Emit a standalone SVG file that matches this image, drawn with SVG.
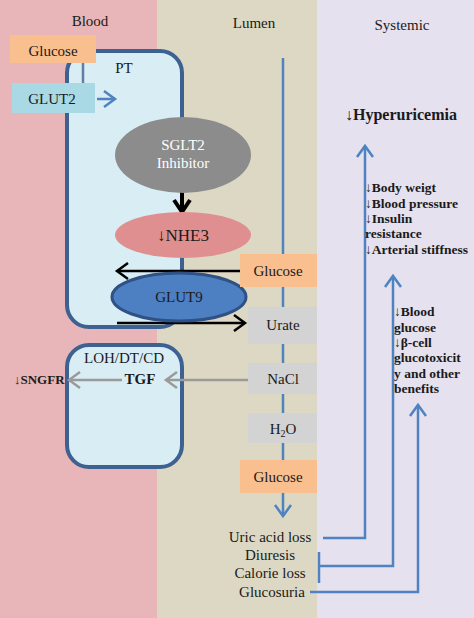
<svg xmlns="http://www.w3.org/2000/svg" width="474" height="618" viewBox="0 0 474 618" font-family="'Liberation Serif', 'DejaVu Serif', serif">
<defs>
<style>
text{font-family:"Liberation Serif","DejaVu Serif",serif;fill:#1a1a1a}
.t{font-size:15px}
.b{font-weight:bold;font-size:13.5px}
.box{stroke:none}
.org{fill:#f9bf8f}
.gry{fill:#d3d3d3}
.cell{fill:#d9edf4;stroke:#3d6190;stroke-width:4}
.blue{stroke:#4f82c0;stroke-width:2.5;fill:none}
.blk{stroke:#000;stroke-width:2.5;fill:none}
.gl{stroke:#9a9a9a;stroke-width:2.5;fill:none}
</style>
<marker id="ab" markerUnits="userSpaceOnUse" markerWidth="16" markerHeight="20" refX="13" refY="10" orient="auto"><path d="M2,2 L13,10 L2,18" fill="none" stroke="#4f82c0" stroke-width="2.5"/></marker>
<marker id="ak" markerUnits="userSpaceOnUse" markerWidth="16" markerHeight="20" refX="13" refY="10" orient="auto"><path d="M2,2 L13,10 L2,18" fill="none" stroke="#000" stroke-width="2.5"/></marker>
<marker id="akb" markerUnits="userSpaceOnUse" markerWidth="18" markerHeight="20" refX="14" refY="10" orient="auto"><path d="M2,2 L14,10 L2,18" fill="none" stroke="#000" stroke-width="4"/></marker>
<marker id="ag" markerUnits="userSpaceOnUse" markerWidth="16" markerHeight="20" refX="13" refY="10" orient="auto"><path d="M2,2 L13,10 L2,18" fill="none" stroke="#9a9a9a" stroke-width="2.5"/></marker>
</defs>

<g id="background">
<rect x="0" y="0" width="157" height="618" fill="#e8b6b8"/>
<rect x="157" y="0" width="160" height="618" fill="#ddd8c3"/>
<rect x="317" y="0" width="157" height="618" fill="#e5e1ee"/>
<text class="t" x="90" y="26" text-anchor="middle">Blood</text>
<text class="t" x="254" y="28" text-anchor="middle">Lumen</text>
<text class="t" x="402" y="30" text-anchor="middle">Systemic</text>
</g>

<g id="pt">
<rect class="cell" x="67" y="51" width="115" height="276" rx="22"/>
<text class="t" x="124" y="73" text-anchor="middle">PT</text>
</g>

<g id="loh">
<rect class="cell" x="67" y="345" width="115" height="122" rx="22"/>
<text class="t" x="124" y="363" text-anchor="middle">LOH/DT/CD</text>
<text class="t" x="140" y="384" text-anchor="middle" font-weight="bold">TGF</text>
</g>

<g id="lumen-line">
<line class="blue" x1="283" y1="58" x2="283" y2="460" stroke-width="2"/>
</g>

<g id="connectors">
<polyline points="50,57 83,57 83,84" fill="none" stroke="#5f7fa6" stroke-width="2.5"/>
<line class="blue" x1="97" y1="99" x2="115" y2="99" marker-end="url(#ab)"/>
<line x1="182" y1="186" x2="182" y2="212" stroke="#000" stroke-width="4" marker-end="url(#akb)"/>
<line class="blk" x1="240" y1="271" x2="117" y2="271" marker-end="url(#ak)"/>
<line class="blk" x1="117" y1="323" x2="245" y2="323" marker-end="url(#ak)"/>
<line class="gl" x1="248" y1="380" x2="166" y2="380" marker-end="url(#ag)"/>
<line class="gl" x1="122" y1="380" x2="69" y2="380" marker-end="url(#ag)"/>
<line class="blue" x1="283" y1="493" x2="283" y2="516" marker-end="url(#ab)"/>
<polyline class="blue" points="323,538 365,538 365,146" marker-end="url(#ab)"/>
<line class="blue" x1="319" y1="552" x2="319" y2="583"/>
<polyline class="blue" points="319,566 393,566 393,276" marker-end="url(#ab)"/>
<polyline class="blue" points="310,592 418,592 418,405" marker-end="url(#ab)"/>
</g>

<g id="glucose-blood">
<rect class="box org" x="10" y="35" width="86" height="28"/>
<text class="t" x="53" y="56" text-anchor="middle">Glucose</text>
</g>
<g id="glut2">
<rect class="box" x="12" y="83" width="83" height="30" fill="#a9d9e5"/>
<text class="t" x="52" y="104" text-anchor="middle">GLUT2</text>
</g>

<g id="sglt2">
<ellipse cx="183" cy="155" rx="68" ry="38" fill="#8c8c8c"/>
<text class="t" x="183" y="150" text-anchor="middle" style="fill:#fff">SGLT2</text>
<text class="t" x="183" y="168" text-anchor="middle" style="fill:#fff">Inhibitor</text>
</g>

<g id="nhe3">
<ellipse cx="183" cy="235" rx="68" ry="23" fill="#e08f90"/>
<text x="183" y="241" text-anchor="middle" font-size="17">↓NHE3</text>
</g>

<g id="glut9">
<ellipse cx="179" cy="297" rx="67" ry="24" fill="#4d80c2" stroke="#2f5185" stroke-width="3"/>
<text class="t" x="179" y="302" text-anchor="middle">GLUT9</text>
</g>

<g id="glucose-lumen">
<rect class="box org" x="240" y="254" width="77" height="33"/>
<text class="t" x="278" y="276" text-anchor="middle">Glucose</text>
</g>
<g id="urate">
<rect class="box gry" x="248" y="307" width="69" height="37"/>
<text class="t" x="283" y="330" text-anchor="middle">Urate</text>
</g>
<g id="nacl">
<rect class="box gry" x="248" y="363" width="69" height="31"/>
<text class="t" x="283" y="384" text-anchor="middle">NaCl</text>
</g>
<g id="h2o">
<rect class="box gry" x="248" y="413" width="69" height="30"/>
<text class="t" x="283" y="434" text-anchor="middle">H<tspan font-size="10" dy="3">2</tspan><tspan dy="-3">O</tspan></text>
</g>
<g id="glucose-lumen2">
<rect class="box org" x="240" y="460" width="77" height="33"/>
<text class="t" x="278" y="482" text-anchor="middle">Glucose</text>
</g>

<g id="sngfr">
<text class="b" x="14" y="384" style="font-size:13px">↓SNGFR</text>
</g>

<g id="outcomes">
<text class="t" x="270" y="542" text-anchor="middle">Uric acid loss</text>
<text class="t" x="270" y="560" text-anchor="middle">Diuresis</text>
<text class="t" x="270" y="578" text-anchor="middle">Calorie loss</text>
<text class="t" x="272" y="597" text-anchor="middle">Glucosuria</text>
</g>

<g id="hyperuricemia">
<text x="401" y="120" text-anchor="middle" font-weight="bold" font-size="16">↓Hyperuricemia</text>
</g>

<g id="body">
<text class="b" x="365" y="192">↓Body weigt</text>
<text class="b" x="365" y="208">↓Blood pressure</text>
<text class="b" x="365" y="223">↓Insulin</text>
<text class="b" x="365" y="238">resistance</text>
<text class="b" x="365" y="254">↓Arterial stiffness</text>
</g>

<g id="glycemic">
<text class="b" x="394" y="316">↓Blood</text>
<text class="b" x="394" y="332">glucose</text>
<text class="b" x="394" y="347">↓β-cell</text>
<text class="b" x="394" y="362">glucotoxicit</text>
<text class="b" x="394" y="378">y and other</text>
<text class="b" x="394" y="393">benefits</text>
</g>
</svg>
